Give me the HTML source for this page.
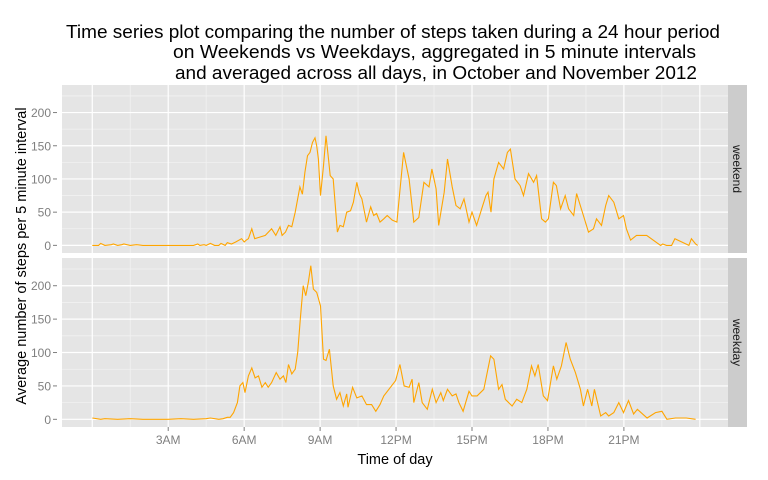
<!DOCTYPE html>
<html><head><meta charset="utf-8"><style>
body{margin:0;background:#fff;}
svg{display:block;font-family:"Liberation Sans",sans-serif;}
</style></head><body>
<svg id="chart" width="768" height="480" viewBox="0 0 768 480">
<g font-size="18.5" fill="#000">
<text x="66" y="38" textLength="654" lengthAdjust="spacingAndGlyphs">Time series plot comparing the number of steps taken during a 24 hour period</text>
<text x="173" y="58" textLength="523" lengthAdjust="spacingAndGlyphs">on Weekends vs Weekdays, aggregated in 5 minute intervals</text>
<text x="175" y="79" textLength="522" lengthAdjust="spacingAndGlyphs">and averaged across all days, in October and November 2012</text>
</g>
<g id="plot"></g>
<text x="395" y="464" font-size="14.5" text-anchor="middle">Time of day</text>
<text transform="translate(26,256) rotate(-90)" font-size="14.5" text-anchor="middle">Average number of steps per 5 minute interval</text>
</svg>
<script>
const weekendMinutes=[0,15,20,30,45,50,60,70,75,90,105,120,135,150,165,180,195,210,225,240,250,255,265,270,280,290,300,305,315,320,330,340,354,360,365,370,378,385,395,410,425,435,445,450,458,465,473,481,492,498,504,510,516,522,528,532,536,541,548,554,560,564,571,581,587,595,603,612,619,627,633,639,650,660,667,674,682,691,699,711,722,734,738,751,762,774,786,798,805,815,821,834,842,853,862,872,881,893,900,911,923,933,938,945,952,963,975,984,991,1002,1014,1022,1034,1046,1053,1065,1074,1081,1093,1100,1110,1121,1129,1141,1148,1164,1176,1188,1195,1207,1217,1224,1236,1248,1259,1266,1276,1290,1314,1347,1352,1361,1373,1381,1414,1420,1430,1435];
const weekendSteps=[0,0,3,0,1,2,0,1,2,0,1,0,0,0,0,0,0,0,0,0,2,0,1,0,3,0,0,3,0,4,2,5,10,5,8,10,25,10,12,15,25,15,28,15,20,30,28,50,88,77,110,135,140,155,162,150,130,75,120,165,130,105,100,20,30,28,50,52,65,95,78,70,35,58,45,48,35,40,45,38,35,115,140,100,35,42,95,88,115,85,30,80,130,88,60,55,70,35,50,30,55,75,80,50,100,125,115,140,145,100,90,75,108,95,105,40,35,40,95,90,55,75,55,45,78,45,20,25,40,30,60,75,65,40,45,25,8,15,15,0,2,0,0,10,0,10,2,0,0];
const weekdayMinutes=[0,20,30,60,90,120,150,180,210,240,270,280,300,310,320,327,335,344,350,357,362,370,378,386,394,402,410,417,425,436,445,453,459,465,473,481,487,493,500,506,512,518,524,532,541,548,554,562,571,579,587,595,603,606,617,627,639,650,662,672,682,691,703,719,729,739,751,758,762,774,782,794,806,815,826,832,842,853,862,869,879,893,900,912,928,944,952,963,971,979,995,1006,1018,1030,1041,1049,1057,1069,1079,1093,1101,1112,1123,1133,1145,1157,1164,1174,1184,1190,1205,1217,1224,1236,1248,1259,1271,1283,1292,1315,1335,1350,1362,1382,1408,1430];
const weekdaySteps=[2,0,1,0,1,0,0,0,1,0,1,2,0,1,3,3,10,25,50,55,40,65,77,62,65,48,55,48,55,70,60,65,55,82,68,75,100,150,200,185,205,230,195,190,170,90,88,105,50,30,40,20,38,18,48,32,35,22,22,12,22,35,45,58,82,50,48,60,25,55,25,15,45,25,40,28,45,35,38,25,12,42,35,35,45,95,90,45,52,30,20,30,25,45,80,65,82,35,28,80,60,80,115,90,70,45,20,45,20,45,5,10,5,10,25,10,28,8,15,2,10,12,0,2,2,0];
const xTickMinutes=[180,360,540,720,900,1080,1260];
const xTickLabels=['3AM','6AM','9AM','12PM','15PM','18PM','21PM'];
const yTicks=[0,50,100,150,200];
const panels=[{name:'weekend',top:85,bottom:253,mins:weekendMinutes,vals:weekendSteps},{name:'weekday',top:258,bottom:427,mins:weekdayMinutes,vals:weekdaySteps}];
const NS='http://www.w3.org/2000/svg';
const plot=document.getElementById('plot');
const L=62,R=728;
const xMin=-71.75,xMax=1506.75,yMin=-11.5,yMax=241.5;
function X(m){return L+(m-xMin)/(xMax-xMin)*(R-L);}
function mk(tag,attrs,parent){const e=document.createElementNS(NS,tag);for(const k in attrs)e.setAttribute(k,attrs[k]);(parent||plot).appendChild(e);return e;}
panels.forEach(p=>{
  const Y=v=>p.bottom-(v-yMin)/(yMax-yMin)*(p.bottom-p.top);
  const g=mk('g',{});
  
  
  const bg=mk('rect',{x:L,y:p.top,width:R-L,height:p.bottom-p.top,fill:'#e5e5e5'},g);
  
  
  for(let v=25;v<=225;v+=50){const l=mk('line',{x1:L,x2:R,y1:Y(v),y2:Y(v),stroke:'#f2f2f2','stroke-width':0.8},g);
    
    }
  for(let m=90;m<1440;m+=180){const l=mk('line',{x1:X(m),x2:X(m),y1:p.top,y2:p.bottom,stroke:'#f2f2f2','stroke-width':0.8},g);
    
    }
  yTicks.forEach(v=>{const l=mk('line',{x1:L,x2:R,y1:Y(v),y2:Y(v),stroke:'#fff','stroke-width':1.2},g);
    
    
    const t=mk('line',{x1:53,x2:57,y1:Y(v),y2:Y(v),stroke:'#7f7f7f'},g);
    
    
    const tx=mk('text',{x:51,y:Y(v)+4.5,'font-size':12,'text-anchor':'end',fill:'#7f7f7f'},g);tx.textContent=v;
    
    });
  for(let m=0;m<=1440;m+=180){const l=mk('line',{x1:X(m),x2:X(m),y1:p.top,y2:p.bottom,stroke:'#fff','stroke-width':1.2},g);
    
    }
  const pts=p.mins.map((m,i)=>X(m).toFixed(1)+','+Y(p.vals[i]).toFixed(1)).join(' ');
  const line=mk('polyline',{points:pts,fill:'none',stroke:'#ffa500','stroke-width':1.1},g);
  
  
  const st=mk('rect',{x:R,y:p.top,width:19,height:p.bottom-p.top,fill:'#cccccc'},g);
  
  
  const cy=(p.top+p.bottom)/2;
  const stt=mk('text',{transform:'translate('+(R+5)+','+cy+') rotate(90)','font-size':12,'text-anchor':'middle',fill:'#1a1a1a'},g);
  stt.textContent=p.name;
  
  
});
xTickMinutes.forEach((m,i)=>{
  const t=mk('line',{x1:X(m),x2:X(m),y1:427,y2:431,stroke:'#7f7f7f'});
  
  
  const tx=mk('text',{x:X(m),y:444,'font-size':12,'text-anchor':'middle',fill:'#7f7f7f'});
  tx.textContent=xTickLabels[i];
  
  
});
</script>
</body></html>
